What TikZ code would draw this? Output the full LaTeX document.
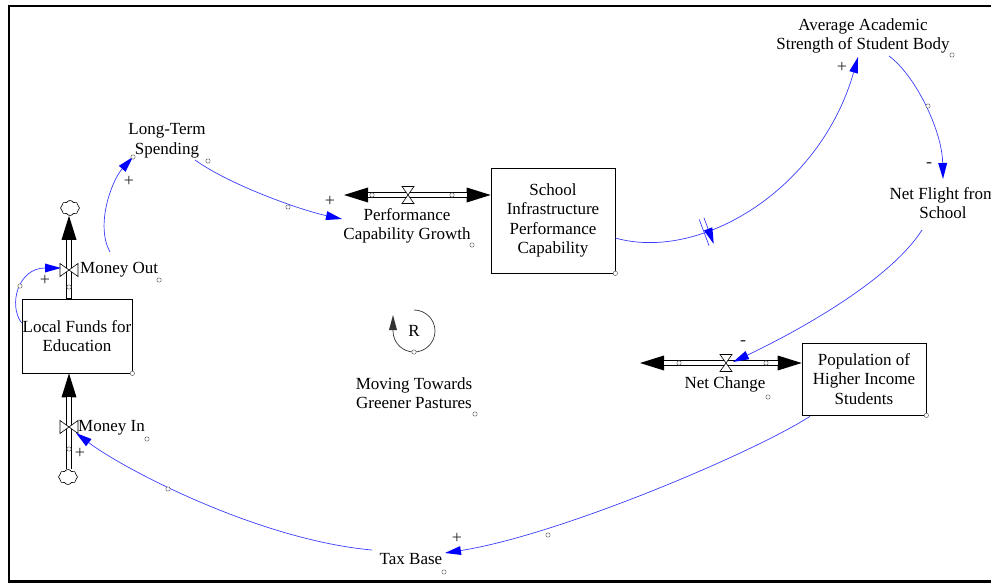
\documentclass[tikz,border=0pt]{standalone}
\usepackage{fontspec}
\setmainfont{Liberation Serif}
\usetikzlibrary{arrows.meta,shapes.symbols}
\definecolor{linkblue}{RGB}{60,60,255}
\tikzset{
  PipeTip/.tip={Triangle[length=24pt,width=15pt,line width=0pt]},
  LinkTip/.tip={Triangle[length=16pt,width=9pt,line width=0pt,fill=blue]},
  LoopTip/.tip={Triangle[length=15pt,width=8pt,line width=0pt]},
  valveH/.pic={\filldraw[fill=white,draw=black,line width=0.6pt]
     (-6,-8.5) -- (6,-8.5) -- (-6,8.5) -- (6,8.5) -- cycle;},
  valveV/.pic={\filldraw[fill=white,draw=black,line width=0.6pt]
     (-9,-6.5) -- (-9,6.5) -- (9,-6.5) -- (9,6.5) -- cycle;},
  delaymark/.pic={\draw[linkblue,line width=0.7pt]
     (-2.5,-14) -- (-2.5,14) (2.5,-14) -- (2.5,14);},
}
\begin{document}
\begin{tikzpicture}[x=1pt,y=-1pt,
  font=\fontsize{17}{19.5}\selectfont,
  stock/.style={draw, line width=0.7pt, inner sep=0pt, align=center, fill=white},
  var/.style={align=center, inner sep=0pt},
  handle/.style={circle, draw=black!65, line width=0.45pt, fill=white,
                 inner sep=0pt, minimum size=4.4pt},
  link/.style={draw=linkblue, line width=0.7pt, -{LinkTip}},
  sign/.style={font=\fontsize{18}{18}\selectfont, text=black!85, inner sep=0pt},
  pipeedge/.style={line width=5.6pt, black},
  pipecore/.style={line width=3.4pt, white},
  cloudy/.style={cloud, cloud puffs=8, cloud puff arc=120, draw, line width=0.6pt,
                 minimum width=19pt, minimum height=15pt, inner sep=0pt, fill=white},
  loopline/.style={draw=black!80, line width=0.7pt},
]
\useasboundingbox (0,0) rectangle (991,583);

% outer frame
\draw[line width=2.2pt] (1000,6) -- (8.7,6) -- (8.7,581.5) -- (1000,581.5);

% stocks
\node[stock, minimum width=110pt, minimum height=74pt] (lf) at (77,336)
  {Local Funds for\\Education};
\node[stock, minimum width=124pt, minimum height=105pt] (sipc) at (553,220.5)
  {School\\Infrastructure\\Performance\\Capability};
\node[stock, minimum width=124pt, minimum height=72pt] (pop) at (864,379)
  {Population of\\Higher Income\\Students};

% clouds, valves and free pipe ends
\node[cloudy] (cout) at (70,208) {};
\node[cloudy] (cin) at (68,477) {};
\coordinate (mov) at (69,270);
\coordinate (miv) at (69,427);
\coordinate (pcgv) at (408,195);
\coordinate (ncv) at (726,363);
\coordinate (pcgend) at (344,195);
\coordinate (ncend) at (640,363);

% variables
\node[var] (lts) at (167,141) {Long-Term\\Spending};
\node[var] (aas) at (863,36) {Average Academic\\Strength of Student Body};
\node[var] (nfs) at (943,203) {Net Flight from\\School};
\node[var] (tax) at (411,559) {Tax Base};
\node[var, anchor=west] (mol) at (80,270) {Money Out};
\node[var, anchor=west] (mil) at (78,428) {Money In};
\node[var] (pcgt) at (407,226) {Performance\\Capability Growth};
\node[var] (nct) at (725,384) {Net Change};
\node[var] (looplab) at (414,393) {Moving Towards\\Greener Pastures};

% flows
\draw[pipeedge, -{PipeTip}] (mov |- lf.north) -- (mov |- cout.south);
\draw[pipecore, shorten >=24pt, shorten <=0.4pt] (mov |- lf.north) -- (mov |- cout.south);
\draw[pipeedge, -{PipeTip}] (miv |- cin.north) -- (miv |- lf.south);
\draw[pipecore, shorten >=24pt] (miv |- cin.north) -- (miv |- lf.south);
\draw[pipeedge, {PipeTip}-{PipeTip}] (pcgend) -- (pcgv -| sipc.west);
\draw[pipecore, shorten >=24pt, shorten <=24pt] (pcgend) -- (pcgv -| sipc.west);
\draw[pipeedge, {PipeTip}-{PipeTip}] (ncend) -- (ncv -| pop.west);
\draw[pipecore, shorten >=24pt, shorten <=24pt] (ncend) -- (ncv -| pop.west);
\pic at (mov) {valveV};
\pic at (miv) {valveV};
\pic at (pcgv) {valveH};
\pic at (ncv) {valveH};

% causal links
\draw[link] ([shift={(0,-13)}]lf.west) .. controls (8,305) and (18,268) ..
  ([shift={(-8,-2)}]mov);
\draw[link] ([shift={(41,-18)}]mov) .. controls (95,225) and (112,180) ..
  ([shift={(-34,16)}]lts.center);
\draw[link] ([shift={(28,19)}]lts.center) .. controls (230,185) and (300,210) ..
  ([shift={(-65,-7)}]pcgt.center);
\draw[link] ([shift={(0,17.5)}]sipc.east) .. controls (700,262) and (820,190) ..
  ([shift={(-5,21)}]aas.center) pic[pos=0.33, sloped] {delaymark};
\draw[link] ([shift={(26,20)}]aas.center) .. controls (915,75) and (942,130) ..
  ([shift={(0,-24)}]nfs.center);
\draw[link] ([shift={(-21,27)}]nfs.center) .. controls (890,280) and (800,330) ..
  ([shift={(7,-1)}]ncv);
\draw[link] ([shift={(-54,1)}]pop.south) .. controls (755,452) and (560,535) ..
  ([shift={(34,-6)}]tax.center);
\draw[link] ([shift={(-39,-9)}]tax.center) .. controls (260,540) and (125,470) ..
  ([shift={(7,6)}]miv);

% loop marker
\node[var] (loopR) at (414,331) {R};
\draw[loopline, -{LoopTip}] ([shift={(270:21)}]loopR.center)
  arc[start angle=270, end angle=540, radius=21] -- ++(0,-16);

% polarities
\node[sign] (p1) at (45,280) {+};
\node[sign] (p2) at (129,181) {+};
\node[sign] (p3) at (330,201) {+};
\node[sign] (p4) at (842,67) {+};
\node[sign] (p5) at (929,165) {-};
\node[sign] (p6) at (743,343) {-};
\node[sign] (p7) at (457,538) {+};
\node[sign] (p8) at (80,453) {+};

% handles
\foreach \n/\x/\y in {h1/159/280, h2/69/287, h3/147/439, h4/69/449, h5/20/286,
  h6/133/157, h7/208/161, h8/288/207, h9/372/195, h10/452/195, h11/472/245,
  h12/952/55, h13/928/106, h14/679/363, h15/766/363, h16/768/397,
  h17/548/535, h18/444/572, h19/168/489, h20/414/352, h21/475/414}
  \node[handle] (\n) at (\x,\y) {};
\node[handle] (hlf) at (lf.south east) {};
\node[handle] (hsipc) at (sipc.south east) {};
\node[handle] (hpop) at (pop.south east) {};
\end{tikzpicture}
\end{document}
